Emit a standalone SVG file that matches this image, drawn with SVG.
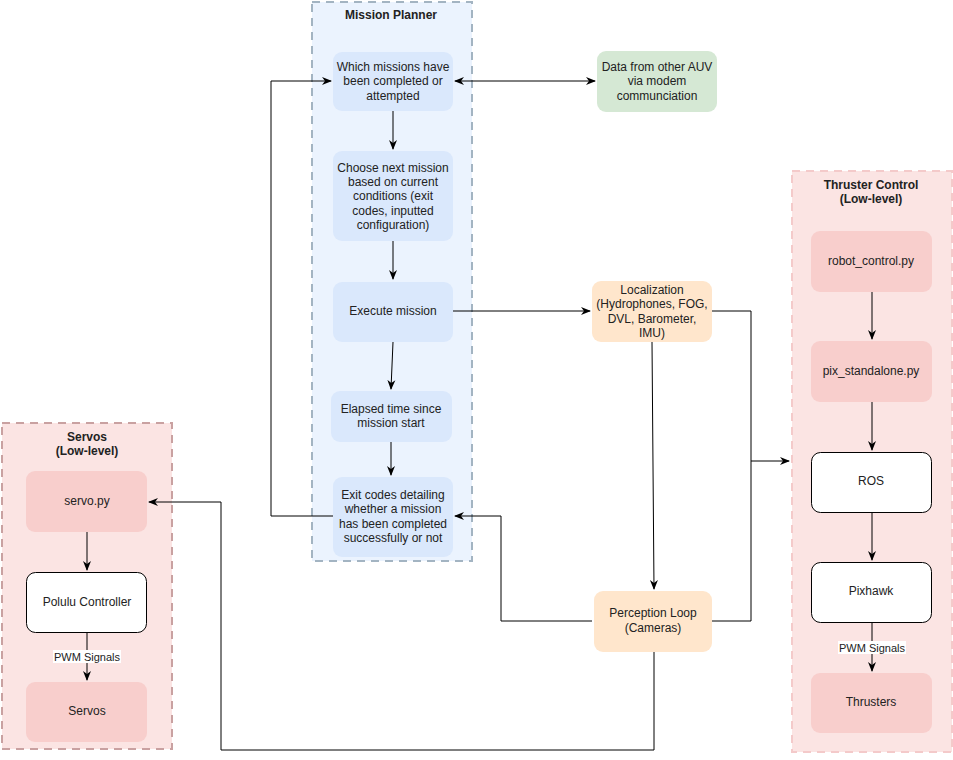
<svg xmlns="http://www.w3.org/2000/svg" width="953" height="760" viewBox="0 0 953 760">
<style>
text{font-family:"Liberation Sans",Arial,sans-serif;font-size:12px;fill:#222;text-anchor:middle}
.t{font-weight:bold}
.lbl{font-size:11px}
.blue{fill:#DAE8FC}
.green{fill:#D5E8D4}
.orange{fill:#FFE6CC}
.red{fill:#F8CECC}
.white{fill:#fff;stroke:#000;stroke-width:1}
.c{fill:none;stroke:#000;stroke-width:1}
</style>
<defs>
<marker id="a" viewBox="0 0 10 10" refX="9" refY="5" markerWidth="10" markerHeight="10" markerUnits="userSpaceOnUse" orient="auto-start-reverse">
<path d="M0,1 L10,5 L0,9 L3,5 Z" fill="#000"/>
</marker>
</defs>
<rect width="953" height="760" fill="#fff"/>

<g id="mission-planner">
<rect x="312" y="2" width="160" height="559" fill="#EBF3FE" stroke="#A3B4C2" stroke-width="2" stroke-dasharray="8,6"/>
<text class="t" x="391" y="19">Mission Planner</text>
</g>
<g id="thruster-control">
<rect x="792" y="171" width="160" height="581" fill="#FBE4E3" stroke="#F4CACA" stroke-width="2" stroke-dasharray="8,6"/>
<text class="t" x="871" y="189">Thruster Control</text>
<text class="t" x="871" y="203">(Low-level)</text>
</g>
<g id="servos-group">
<rect x="2" y="423" width="170" height="326" fill="#FBE4E3" stroke="#C9A1A1" stroke-width="2" stroke-dasharray="8,6"/>
<text class="t" x="87" y="441">Servos</text>
<text class="t" x="87" y="455">(Low-level)</text>
</g>

<g id="connectors">
<path class="c" d="M333,516 H271 V81 H331" marker-end="url(#a)"/>
<path class="c" d="M455,81 H595" marker-start="url(#a)" marker-end="url(#a)"/>
<path class="c" d="M393,111 V149" marker-end="url(#a)"/>
<path class="c" d="M393,241 V279" marker-end="url(#a)"/>
<path class="c" d="M393,342 L391,389" marker-end="url(#a)"/>
<path class="c" d="M391,442 V475" marker-end="url(#a)"/>
<path class="c" d="M453,311 H590" marker-end="url(#a)"/>
<path class="c" d="M712,311 H751 V461 H789" marker-end="url(#a)"/>
<path class="c" d="M712,621 H751 V461"/>
<path class="c" d="M652,342 L654,589" marker-end="url(#a)"/>
<path class="c" d="M592,621 H501 V516 H455" marker-end="url(#a)"/>
<path class="c" d="M654,652 V750 H221 V502 H149" marker-end="url(#a)"/>
<path class="c" d="M87,532 V570" marker-end="url(#a)"/>
<path class="c" d="M87,632 V680" marker-end="url(#a)"/>
<path class="c" d="M872,292 V339" marker-end="url(#a)"/>
<path class="c" d="M872,402 V450" marker-end="url(#a)"/>
<path class="c" d="M872,512 V560" marker-end="url(#a)"/>
<path class="c" d="M872,622 V671" marker-end="url(#a)"/>
<rect x="53" y="650" width="68" height="13" fill="#fff"/>
<text class="lbl" x="87" y="661">PWM Signals</text>
<rect x="838" y="641" width="68" height="13" fill="#fff"/>
<text class="lbl" x="872" y="652">PWM Signals</text>
</g>

<g id="which-missions">
<rect class="blue" x="333" y="52" width="120" height="59" rx="9"/>
<text x="393" y="71">Which missions have</text>
<text x="393" y="85">been completed or</text>
<text x="393" y="100">attempted</text>
</g>
<g id="choose-next">
<rect class="blue" x="333" y="151" width="120" height="90" rx="9"/>
<text x="393" y="172">Choose next mission</text>
<text x="393" y="186">based on current</text>
<text x="393" y="200">conditions (exit</text>
<text x="393" y="215">codes, inputted</text>
<text x="393" y="229">configuration)</text>
</g>
<g id="execute">
<rect class="blue" x="333" y="282" width="120" height="60" rx="9"/>
<text x="393" y="315">Execute mission</text>
</g>
<g id="elapsed">
<rect class="blue" x="331" y="391" width="121" height="51" rx="9"/>
<text x="391" y="413">Elapsed time since</text>
<text x="391" y="427">mission start</text>
</g>
<g id="exit-codes">
<rect class="blue" x="333" y="477" width="120" height="80" rx="9"/>
<text x="393" y="499">Exit codes detailing</text>
<text x="393" y="513">whether a mission</text>
<text x="393" y="528">has been completed</text>
<text x="393" y="542">successfully or not</text>
</g>
<g id="data-auv">
<rect class="green" x="597" y="51" width="120" height="61" rx="9"/>
<text x="657" y="71">Data from other AUV</text>
<text x="657" y="85">via modem</text>
<text x="657" y="100">communciation</text>
</g>
<g id="localization">
<rect class="orange" x="592" y="281" width="120" height="61" rx="9"/>
<text x="652" y="294">Localization</text>
<text x="652" y="308">(Hydrophones, FOG,</text>
<text x="652" y="323">DVL, Barometer,</text>
<text x="652" y="337">IMU)</text>
</g>
<g id="perception">
<rect class="orange" x="594" y="591" width="118" height="61" rx="9"/>
<text x="653" y="617">Perception Loop</text>
<text x="653" y="632">(Cameras)</text>
</g>
<g id="robot-control">
<rect class="red" x="811" y="231" width="121" height="61" rx="9"/>
<text x="871" y="265">robot_control.py</text>
</g>
<g id="pix-standalone">
<rect class="red" x="811" y="341" width="121" height="61" rx="9"/>
<text x="871" y="375">pix_standalone.py</text>
</g>
<g id="ros">
<rect class="white" x="811.5" y="452.5" width="120" height="60" rx="9"/>
<text x="871" y="485">ROS</text>
</g>
<g id="pixhawk">
<rect class="white" x="811.5" y="562.5" width="120" height="60" rx="9"/>
<text x="871" y="595">Pixhawk</text>
</g>
<g id="thrusters">
<rect class="red" x="811" y="673" width="121" height="60" rx="9"/>
<text x="871" y="706">Thrusters</text>
</g>
<g id="servo-py">
<rect class="red" x="26" y="471" width="121" height="61" rx="9"/>
<text x="87" y="505">servo.py</text>
</g>
<g id="polulu">
<rect class="white" x="26.5" y="572.5" width="120" height="60" rx="9"/>
<text x="87" y="606">Polulu Controller</text>
</g>
<g id="servos">
<rect class="red" x="26" y="682" width="121" height="60" rx="9"/>
<text x="87" y="715">Servos</text>
</g>
</svg>
